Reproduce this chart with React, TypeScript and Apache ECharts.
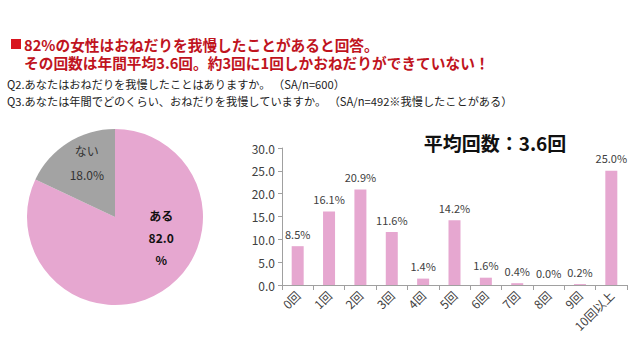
import React, { useEffect, useRef } from "react";
import * as echarts from "echarts";

const titleLine1 = "82%の女性はおねだりを我慢したことがあると回答。";
const titleLine2 = "その回数は年間平均3.6回。約3回に1回しかおねだりができていない！";
const q2Text = "Q2.あなたはおねだりを我慢したことはありますか。 （SA/n=600）";
const q3Text = "Q3.あなたは年間でどのくらい、おねだりを我慢していますか。 （SA/n=492※我慢したことがある）";
const avgText = "平均回数：3.6回";

const pieNames = ["ある", "ない"];
const pieValues = [82.0, 18.0];

const barCategories = ["0回", "1回", "2回", "3回", "4回", "5回", "6回", "7回", "8回", "9回", "10回以上"];
const barValues = [8.5, 16.1, 20.9, 11.6, 1.4, 14.2, 1.6, 0.4, 0.0, 0.2, 25.0];
const yTicks = [0, 5, 10, 15, 20, 25, 30];

const PINK = "#e6a7d0";
const GRAY = "#a3a3a3";
const FONT = "'Noto Sans CJK JP', 'Noto Sans', sans-serif";

export default function App() {
  const ref = useRef<HTMLDivElement>(null);
  useEffect(() => {
    if (!ref.current) return;
    const chart = echarts.init(ref.current, undefined, { renderer: "svg" });
    chart.setOption({
      animation: false,
      backgroundColor: "#ffffff",
      textStyle: { fontFamily: FONT },
      graphic: [
        { type: "rect", shape: { x: 11, y: 39, width: 10, height: 10 }, style: { fill: "#d8141e" } },
        { type: "text", x: 24, y: 44, scaleX: 0.98, style: { text: titleLine1, font: `bold 15px ${FONT}`, fill: "#c0141e", verticalAlign: "middle" } },
        { type: "text", x: 24, y: 62, scaleX: 0.98, style: { text: titleLine2, font: `bold 15px ${FONT}`, fill: "#c0141e", verticalAlign: "middle" } },
        { type: "text", x: 7, y: 84, style: { text: q2Text, font: `11.2px ${FONT}`, fill: "#222", verticalAlign: "middle" } },
        { type: "text", x: 7, y: 101, style: { text: q3Text, font: `11.2px ${FONT}`, fill: "#222", verticalAlign: "middle" } },
        { type: "text", x: 495, y: 142, style: { text: avgText, font: `bold 19px ${FONT}`, fill: "#111", align: "center", verticalAlign: "middle" } },
      ],
      grid: { left: 282, right: 13, top: 148, bottom: 71, containLabel: false },
      xAxis: {
        type: "category",
        data: barCategories,
        axisLine: { lineStyle: { color: "#a0a0a0" } },
        axisTick: { show: true, alignWithLabel: false, lineStyle: { color: "#a0a0a0" }, length: 5 },
        axisLabel: { rotate: 45, color: "#404040", fontSize: 12, margin: 8, interval: 0 },
      },
      yAxis: {
        type: "value",
        min: yTicks[0],
        max: yTicks[yTicks.length - 1],
        interval: yTicks[1] - yTicks[0],
        axisLine: { show: true, lineStyle: { color: "#a0a0a0" } },
        axisTick: { show: true, lineStyle: { color: "#a0a0a0" }, length: 4 },
        splitLine: { show: false },
        axisLabel: { color: "#404040", fontSize: 12, margin: 7, formatter: (v: number) => v.toFixed(1) },
      },
      series: [
        {
          type: "pie",
          center: [115, 217],
          radius: 88,
          startAngle: 90,
          clockwise: true,
          data: pieNames.map((n, i) => ({
            name: n,
            value: pieValues[i],
            itemStyle: { color: i === 0 ? PINK : GRAY },
            label: i === 0
              ? { formatter: `{b}\n${pieValues[i].toFixed(1)}\n%`, fontWeight: "bold", color: "#111", fontSize: 12, lineHeight: 22 }
              : { formatter: `{b}\n\n${pieValues[i].toFixed(1)}%`, color: "#333", fontSize: 12, lineHeight: 12 },
          })),
          label: { show: true, position: "inside" },
          labelLayout: (p: any) => (p.dataIndex === 0 ? { dx: 21, dy: -19 } : { dx: -3, dy: -15 }),
          labelLine: { show: false },
          emphasis: { disabled: true },
        },
        {
          type: "bar",
          data: barValues,
          barWidth: 12,
          itemStyle: { color: PINK },
          label: {
            show: true,
            position: "top",
            distance: 7,
            color: "#404040",
            fontSize: 11,
            formatter: (p: any) => `${(p.value as number).toFixed(1)}%`,
          },
        },
      ],
    });
    return () => chart.dispose();
  }, []);
  return <div ref={ref} style={{ width: 640, height: 356, position: "absolute", left: 0, top: 0 }} />;
}
